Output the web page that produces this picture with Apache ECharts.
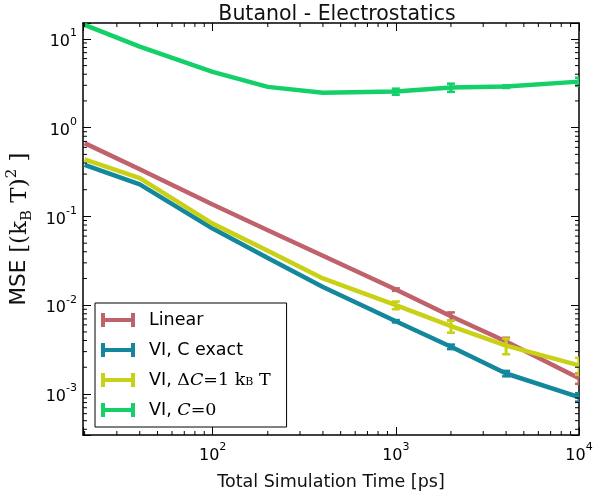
<!DOCTYPE html>
<html><head><meta charset="utf-8">
<script src="https://cdn.jsdelivr.net/npm/echarts@6/dist/echarts.min.js"></script>
<style>html,body{margin:0;padding:0;background:#fff}#c{width:594px;height:492px}</style>
</head><body><div id="c"></div>
<script>
// ---- data ----
const times = [20, 40, 100, 200, 400, 1000, 2000, 4000, 10000];
const linearMSE = [0.67, 0.34, 0.136, 0.070, 0.036, 0.015, 0.0075, 0.0039, 0.0015];
const viExactMSE = [0.38, 0.23, 0.073, 0.034, 0.016, 0.0066, 0.0034, 0.0017, 0.00092];
const viDeltaMSE = [0.44, 0.27, 0.083, 0.041, 0.020, 0.010, 0.0058, 0.0035, 0.0021];
const viZeroMSE = [14.4, 8.2, 4.25, 2.88, 2.48, 2.55, 2.83, 2.9, 3.3];
const linearErr = [0, 0, 0, 0, 0, 0.0005, 0.0008, 0.0004, 0.0002];
const viExactErr = [0, 0, 0, 0, 0, 0.0002, 0.0002, 0.00012, 0.0001];
const viDeltaErr = [0, 0, 0, 0, 0, 0.001, 0.0009, 0.0007, 0.00045];
const viZeroErr = [0, 0, 0, 0, 0, 0.2, 0.3, 0.1, 0.35];
const seriesNames = ['Linear', 'VI, C exact', 'VI, \u0394C=1 kB T', 'VI, C=0'];
const colors = ['#c0626b', '#13879c', '#c9d117', '#14d068'];
const xMin = 19.6, xMax = 10000, yMin = 3.45e-4, yMax = 15.1;

// ---- helpers ----
function powLabel(v) {
  const e = Math.log10(v), r = Math.round(e);
  if (Math.abs(e - r) > 1e-6) return '';
  return '{b|10}{sup|' + (r < 0 ? '-' + (-r) : r) + '}';
}
const labelRich = {
  b: {fontFamily: 'DejaVu Sans', fontSize: 16, color: '#000', lineHeight: 22, verticalAlign: 'bottom'},
  sup: {fontFamily: 'DejaVu Sans', fontSize: 11, color: '#000', lineHeight: 22, verticalAlign: 'top'}
};
const xMinor = [], yMinor = [];
[10, 100, 1000].forEach(d => { for (let k = 2; k <= 9; k++) { const v = k * d; if (v > xMin && v < xMax) xMinor.push([v, 1]); } });
[1e-4, 1e-3, 1e-2, 1e-1, 1, 10].forEach(d => { for (let k = 2; k <= 9; k++) { const v = k * d; if (v > yMin && v < yMax) yMinor.push([100, v]); } });

function errRender(color) {
  return function (params, api) {
    const x = api.value(0), y = api.value(1), e = api.value(2);
    if (!e) return null;
    const p1 = api.coord([x, y - e]), p2 = api.coord([x, y + e]);
    const cs = params.coordSys;
    const cw = 4;
    return {type: 'group',
      clipPath: {type: 'rect', shape: {x: cs.x, y: cs.y, width: cs.width, height: cs.height}},
      children: [
      {type: 'line', shape: {x1: p1[0], y1: p1[1], x2: p2[0], y2: p2[1]}, style: {stroke: color, lineWidth: 3}},
      {type: 'line', shape: {x1: p1[0] - cw, y1: p1[1], x2: p1[0] + cw, y2: p1[1]}, style: {stroke: color, lineWidth: 2.5}},
      {type: 'line', shape: {x1: p2[0] - cw, y1: p2[1], x2: p2[0] + cw, y2: p2[1]}, style: {stroke: color, lineWidth: 2.5}}
    ]};
  };
}

const vals = [linearMSE, viExactMSE, viDeltaMSE, viZeroMSE];
const errs = [linearErr, viExactErr, viDeltaErr, viZeroErr];
const series = [];
vals.forEach((arr, i) => {
  series.push({
    name: seriesNames[i], type: 'line', showSymbol: false, symbol: 'none',
    data: times.map((t, j) => [t, arr[j]]),
    lineStyle: {color: colors[i], width: 4.5}, itemStyle: {color: colors[i]},
    z: 2 + i * 2
  });
  series.push({
    name: 'err' + i, type: 'custom', clip: true, silent: true,
    data: times.map((t, j) => [t, arr[j], errs[i][j]]),
    renderItem: errRender(colors[i]), z: 3 + i * 2
  });
});
series.push({
  type: 'custom', name: 'xminor', silent: true, clip: false, z: 20, data: xMinor,
  renderItem: function (params, api) {
    const p = api.coord([api.value(0), api.value(1)]);
    const cs = params.coordSys, b = cs.y + cs.height;
    return {type: 'group', children: [
      {type: 'line', shape: {x1: p[0], y1: b, x2: p[0], y2: b - 4}, style: {stroke: '#000', lineWidth: 1}},
      {type: 'line', shape: {x1: p[0], y1: cs.y, x2: p[0], y2: cs.y + 4}, style: {stroke: '#000', lineWidth: 1}}
    ]};
  }
});
series.push({
  type: 'custom', name: 'yminor', silent: true, clip: false, z: 20, data: yMinor,
  renderItem: function (params, api) {
    const p = api.coord([api.value(0), api.value(1)]);
    const cs = params.coordSys, r = cs.x + cs.width;
    return {type: 'group', children: [
      {type: 'line', shape: {x1: cs.x, y1: p[1], x2: cs.x + 4, y2: p[1]}, style: {stroke: '#000', lineWidth: 1}},
      {type: 'line', shape: {x1: r, y1: p[1], x2: r - 4, y2: p[1]}, style: {stroke: '#000', lineWidth: 1}}
    ]};
  }
});

const legendLabels = {
  'Linear': '{n|Linear}',
  'VI, C exact': '{n|VI, C exact}',
  'VI, \u0394C=1 kB T': '{n|VI, }{s|\u0394}{it|C}{s|=1 k}{sub|B}{s| T}',
  'VI, C=0': '{n|VI, }{it|C}{s|=0}'
};

const axisLineStyle = {color: '#000', width: 1.5};
const chart = echarts.init(document.getElementById('c'), null, {renderer: 'canvas'});
chart.setOption({
  animation: false,
  backgroundColor: '#fff',
  title: {
    text: 'Butanol - Electrostatics', left: 332, top: -1, textAlign: 'center',
    textStyle: {fontFamily: 'DejaVu Sans', fontSize: 20.5, fontWeight: 'normal', color: '#111'}
  },
  grid: {left: 83, top: 23, right: 15, bottom: 57, containLabel: false, outerBoundsMode: 'none'},
  legend: {
    data: seriesNames, orient: 'vertical', left: 95, top: 303,
    padding: [8, 16, 8, 6], itemGap: 12, itemWidth: 34, itemHeight: 14,
    backgroundColor: '#fff', borderColor: '#000', borderWidth: 1, borderRadius: 0,
    icon: 'path://M0,0h4v5h26v-5h4v14h-4v-5h-26v5h-4z',
    formatter: n => legendLabels[n],
    textStyle: {
      color: '#000', padding: [0, 0, 0, 9],
      rich: {
        n: {fontFamily: 'DejaVu Sans', fontSize: 17.5, color: '#000', lineHeight: 16},
        s: {fontFamily: 'DejaVu Serif', fontSize: 17.5, color: '#000', lineHeight: 16},
        it: {fontFamily: 'DejaVu Serif', fontSize: 17.5, fontStyle: 'italic', color: '#000', lineHeight: 16},
        sub: {fontFamily: 'DejaVu Serif', fontSize: 11, color: '#000', lineHeight: 16, verticalAlign: 'bottom'}
      }
    }
  },
  xAxis: [{
    type: 'log', logBase: 10, min: xMin, max: xMax, position: 'bottom',
    name: 'Total Simulation Time [ps]', nameLocation: 'middle', nameGap: 38,
    nameTextStyle: {fontFamily: 'DejaVu Sans', fontSize: 17.5, color: '#111'},
    axisLine: {show: true, lineStyle: axisLineStyle},
    axisTick: {show: true, inside: true, length: 8, lineStyle: {color: '#000', width: 1}},
    axisLabel: {formatter: powLabel, rich: labelRich, margin: 7, showMinLabel: true, showMaxLabel: true},
    splitLine: {show: false}, minorTick: {show: false}
  }, {
    type: 'log', logBase: 10, min: xMin, max: xMax, position: 'top',
    axisLine: {show: true, lineStyle: axisLineStyle},
    axisTick: {show: true, inside: true, length: 8, lineStyle: {color: '#000', width: 1}},
    axisLabel: {show: false}, splitLine: {show: false}
  }],
  yAxis: [{
    type: 'log', logBase: 10, min: yMin, max: yMax, position: 'left',
    name: '{m|MSE }{s|[(k}{sub|B}{s| T)}{sup|2}{s| ]}', nameLocation: 'middle', nameGap: 48, nameRotate: 90,
    nameTextStyle: {
      rich: {
        m: {fontFamily: 'DejaVu Sans', fontSize: 21.5, color: '#111', lineHeight: 30},
        s: {fontFamily: 'DejaVu Serif', fontSize: 23, color: '#111', lineHeight: 30},
        sub: {fontFamily: 'DejaVu Serif', fontSize: 15, color: '#111', lineHeight: 30, verticalAlign: 'bottom'},
        sup: {fontFamily: 'DejaVu Serif', fontSize: 15, color: '#111', lineHeight: 30, verticalAlign: 'top'}
      }
    },
    axisLine: {show: true, lineStyle: axisLineStyle},
    axisTick: {show: true, inside: true, length: 8, lineStyle: {color: '#000', width: 1}},
    axisLabel: {formatter: powLabel, rich: labelRich, margin: 6},
    splitLine: {show: false}
  }, {
    type: 'log', logBase: 10, min: yMin, max: yMax, position: 'right',
    axisLine: {show: true, lineStyle: axisLineStyle},
    axisTick: {show: true, inside: true, length: 8, lineStyle: {color: '#000', width: 1}},
    axisLabel: {show: false}, splitLine: {show: false}
  }],
  series: series
});
</script>
</body></html>
